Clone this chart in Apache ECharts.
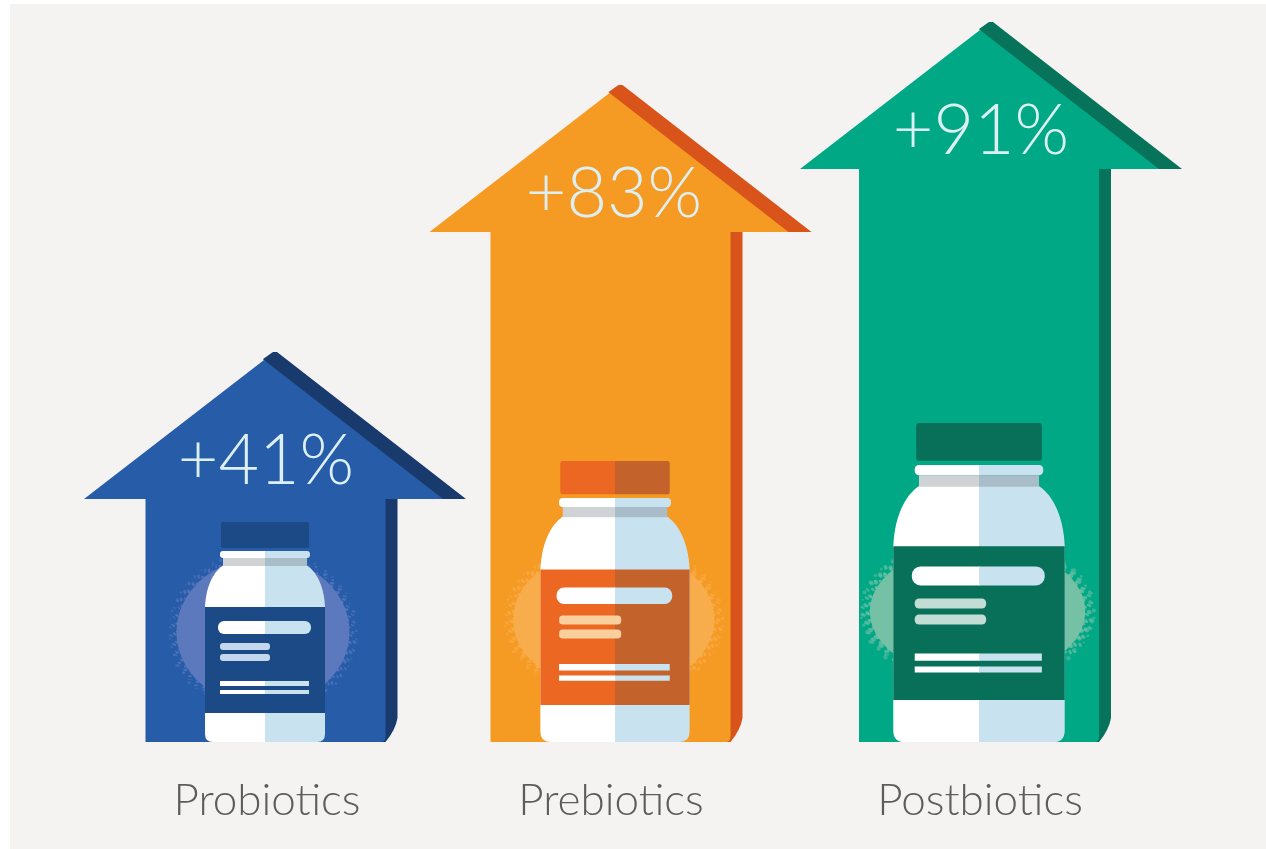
<!DOCTYPE html>
<html><head><meta charset="utf-8">
<style>html,body{margin:0;padding:0;background:#fff}#c{width:1266px;height:849px}</style>
<script src="https://cdn.jsdelivr.net/npm/echarts@6/dist/echarts.min.js"></script>
</head><body><div id="c"></div>
<script>
// Data
const categories = ['Probiotics', 'Prebiotics', 'Postbiotics'];
const percentChange = [41, 83, 91];
// drawn arrow heights as they appear in the picture (not proportional to the percent)
const arrowHeights = [39, 65.7, 72];

// Looks
const palettes = [
  {main:'#265ca8', dark:'#183a6d', capL:'#1b4a86', capR:'#1b4a86', halo:'#5c79be', mini:'#c3d8ee'},
  {main:'#f59a23', dark:'#d9541a', capL:'#ec6822', capR:'#c4622b', halo:'#f8ad4d', mini:'#f8cf9d'},
  {main:'#00a886', dark:'#07735b', capL:'#086f58', capR:'#086f58', halo:'#74c1a6', mini:'#c2ddd3'}
];
const centerNudge = [5, -7.5, 5];
const shaftNudge = [0.5, 0, -2];
const textNudge = [-9, -6.5, -10];
const labelNudge = [-3, -17, -6];
const bottleBox = [
  {dx:-10, w:119, h:220, hx:-2, hy:110, hrx:93, hry:80},
  {dx:-5.5, w:148, h:281, hx:-1, hy:124, hrx:87, hry:60},
  {dx:-12, w:170, h:319, hx:-1, hy:130, hrx:81, hry:50}
];
const HW = 191, HH = 147;

function halo(b, p) {
  const kids = [{type:'ellipse', shape:{cx:b.hx, cy:b.hy, rx:b.hrx*0.93, ry:b.hry*0.93}, style:{fill:p.halo}}];
  // stippled rim of the glow
  for (let k = 0; k < 420; k++) {
    const a = k * 2.39996, f = (k * 0.754878) % 1, g = (k * 0.569840) % 1, rr = 0.88 + 0.14 * f;
    kids.push({type:'circle', shape:{cx:b.hx + Math.cos(a)*b.hrx*rr, cy:b.hy + Math.sin(a)*b.hry*rr, r:0.7 + 0.9*g},
      style:{fill:p.halo, opacity:1 - 0.55*f}});
  }
  return {type:'group', children:kids};
}

function bottle(i, p, x, base) {
  const b = bottleBox[i], white = '#ffffff', light = '#c8e3ef';
  const half = s => `M0,43 L${s*41},43 C${s*50},48 ${s*59},62 ${s*60},85 L${s*60},212 Q${s*60},220 ${s*52},220 L0,220 Z`;
  const rect = (x0,y0,w,h,fill,r) => ({type:'rect', shape:{x:x0,y:y0,width:w,height:h,r:r||0}, style:{fill}});
  return {
    type:'group', x:x, y:base-b.h, scaleX:b.w/119, scaleY:b.h/220,
    children:[
      halo(b, p),
      {type:'path', shape:{pathData:half(-1)}, style:{fill:white}},
      {type:'path', shape:{pathData:half(1)}, style:{fill:light}},
      rect(-44,0,44.5,26,p.capL,[2,0,0,2]), rect(0,0,44,26,p.capR,[0,2,2,0]),
      rect(-45,29,45.5,7,white,[3,0,0,3]), rect(0,29,45,7,light,[0,3,3,0]),
      rect(-42,36,42.5,8,'#cfd3d5'), rect(0,36,42,8,'#a9bdc8'),
      rect(-60,85,60.5,106,p.capL), rect(0,85,60,106,p.capR),
      rect(-47,99,47.5,13,white,[6,0,0,6]), rect(0,99,46,13,light,[0,6,6,0]),
      rect(-45,121,50,7,p.mini,3), rect(-45,132,50,7,p.mini,3),
      rect(-45,159,45.5,5,white), rect(0,159,44,5,light),
      rect(-45,168,45.5,4,white), rect(0,168,44,4,light)
    ]
  };
}

function renderItem(params, api) {
  const i = api.value(0), h = api.value(1), pct = api.value(2);
  const top = api.coord([i, h]), bot = api.coord([i, 0]);
  const cx = top[0] + centerNudge[i], y0 = top[1], base = bot[1], hb = y0 + HH, p = palettes[i];
  const sx = cx + shaftNudge[i];
  const poly = (pts, fill) => ({type:'polygon', shape:{points:pts}, style:{fill}});
  return {type:'group', children:[
    poly([[cx-12,y0+7],[cx-2,y0],[cx+2,y0],[cx+HW,hb],[cx+110,hb]], p.dark),
    {type:'path', shape:{pathData:`M${sx+105},${hb} L${sx+122},${hb} L${sx+122},${base-24} Q${sx+120},${base-12} ${sx+110},${base} L${sx+105},${base} Z`}, style:{fill:p.dark}},
    poly([[cx-HW,hb],[cx-11,y0+8],[cx+168,hb]], p.main),
    {type:'path', shape:{pathData:`M${sx-130},${hb-1} L${sx+110},${hb-1} L${sx+110},${base-5} Q${sx+110},${base} ${sx+105},${base} L${sx-130},${base} Z`}, style:{fill:p.main}},
    bottle(i, p, cx + bottleBox[i].dx, base),
    {type:'text', style:{text:'+'+pct+'%', x:cx+textNudge[i], y:y0+144, align:'center', verticalAlign:'bottom',
      font:'300 70px Lato', fill:'#dcf0f4', lineHeight:70}},
    {type:'text', style:{text:categories[i], x:top[0]+labelNudge[i], y:base+59, align:'center', verticalAlign:'middle',
      font:'300 44px Lato', fill:'#5c5c5c'}}
  ]};
}

const chart = echarts.init(document.getElementById('c'), null, {renderer:'canvas'});
chart.setOption({
  animation:false,
  backgroundColor:'#ffffff',
  graphic:[{type:'rect', z:-10, shape:{x:10,y:4,width:1256,height:845}, style:{fill:'#f5f3f2'}}],
  grid:{left:91, width:1074, top:0, height:742},
  xAxis:{type:'category', data:categories, show:false},
  yAxis:{type:'value', min:0, max:74.2, show:false},
  series:[{
    type:'custom', renderItem, clip:false, silent:true,
    encode:{x:0,y:1},
    data:categories.map((c,i)=>[i, arrowHeights[i], percentChange[i]])
  }]
});
</script></body></html>
